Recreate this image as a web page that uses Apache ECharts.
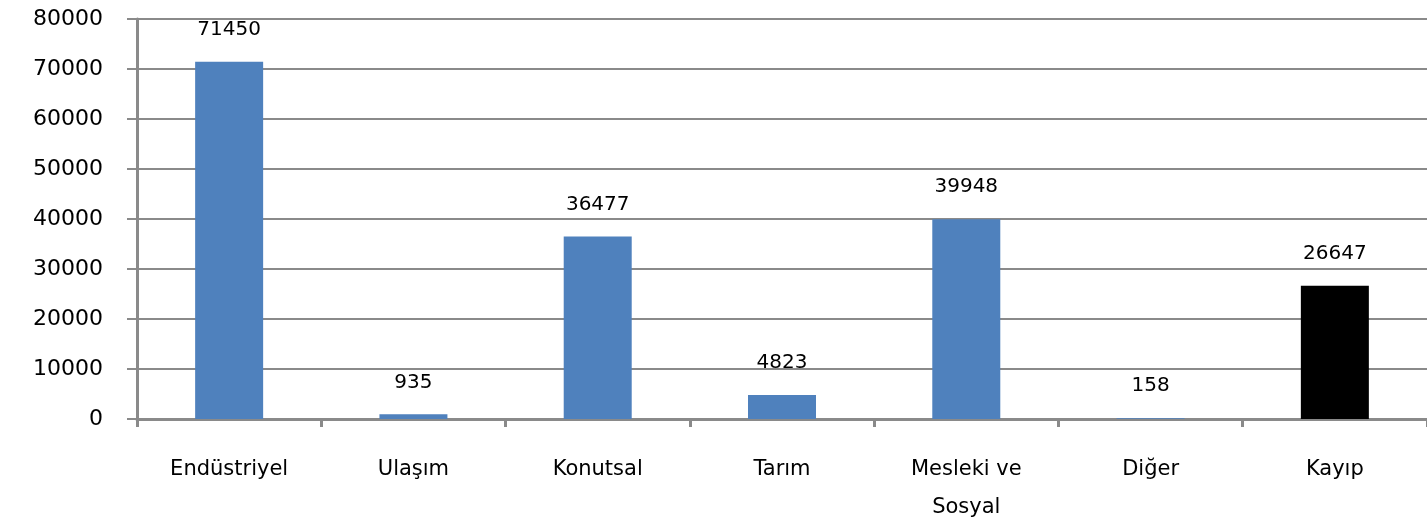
<!DOCTYPE html>
<html><head><meta charset="utf-8">
<script src="https://cdn.jsdelivr.net/npm/echarts@6/dist/echarts.min.js"></script>
<style>html,body{margin:0;padding:0;background:#fff;overflow:hidden}#c{width:1427px;height:528px}</style>
</head><body><div id="c"></div>
<script>
var categories = ['Endüstriyel', 'Ulaşım', 'Konutsal', 'Tarım', 'Mesleki ve\nSosyal', 'Diğer', 'Kayıp'];
var values = [71450, 935, 36477, 4823, 39948, 158, 26647];
var barColors = ['#4f81bd', '#4f81bd', '#4f81bd', '#4f81bd', '#4f81bd', '#4f81bd', '#000000'];

var font = 'DejaVu Sans';
var chart = echarts.init(document.getElementById('c'), null, {renderer: 'canvas'});
chart.setOption({
  backgroundColor: '#ffffff',
  animation: false,
  grid: {left: 137, right: 0, top: 19, height: 400, containLabel: false},
  xAxis: {
    type: 'category',
    data: categories,
    axisLine: {show: true, lineStyle: {color: '#8a8a8a', width: 3}},
    axisTick: {show: true, alignWithLabel: false, length: 8, lineStyle: {color: '#8a8a8a', width: 3}},
    axisLabel: {color: '#000', fontFamily: font, fontSize: 21, margin: 32, lineHeight: 38, interval: 0}
  },
  yAxis: {
    type: 'value',
    min: 0, max: 80000, interval: 10000,
    axisLine: {show: true, lineStyle: {color: '#8a8a8a', width: 3}},
    axisTick: {show: true, length: 10, lineStyle: {color: '#8a8a8a', width: 2}},
    splitLine: {show: true, lineStyle: {color: '#8a8a8a', width: 2}},
    axisLabel: {color: '#000', fontFamily: font, fontSize: 22, margin: 34,
      formatter: function (v) { return String(v); }}
  },
  series: [{
    type: 'bar',
    data: values.map(function (v, i) { return {value: v, itemStyle: {color: barColors[i]}}; }),
    barWidth: 68,
    label: {show: true, position: 'top', distance: 22, color: '#000', fontFamily: font, fontSize: 20}
  }]
});
</script>
</body></html>
